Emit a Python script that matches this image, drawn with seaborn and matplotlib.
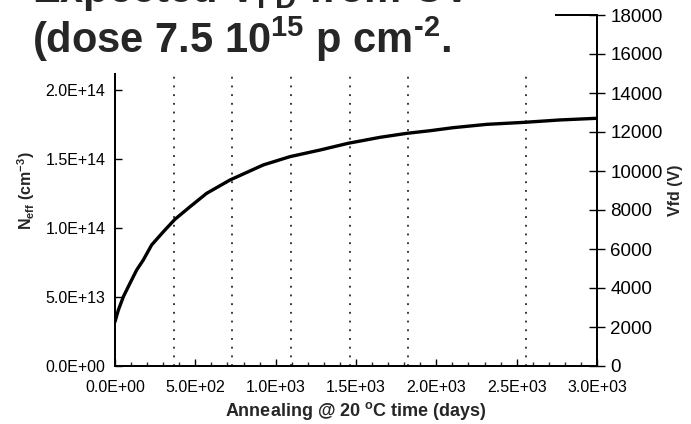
import matplotlib
matplotlib.use("Agg")
import matplotlib.pyplot as plt
import seaborn as sns
import numpy as np
from matplotlib.patches import Rectangle
from matplotlib.ticker import FuncFormatter, MultipleLocator

# curve (days, Neff in cm^-3)
days = [0, 21, 52, 93, 135, 176, 228, 301, 373, 467, 570, 716, 923, 1089,
        1276, 1452, 1649, 1816, 1961, 2105, 2313, 2552, 2770, 3000]
neff = [3.21e13, 4.06e13, 5.02e13, 5.99e13, 6.96e13, 7.68e13, 8.77e13, 9.73e13,
        1.063e14, 1.154e14, 1.251e14, 1.348e14, 1.457e14, 1.517e14, 1.565e14,
        1.614e14, 1.657e14, 1.686e14, 1.705e14, 1.727e14, 1.751e14, 1.766e14,
        1.783e14, 1.795e14]
# yearly markers (years 1-5 and 7)
year_marks = [365, 730, 1095, 1460, 1825, 2555]

x_ticks = [0, 500, 1000, 1500, 2000, 2500, 3000]
neff_ticks = [0, 5e13, 1e14, 1.5e14, 2e14, 2.5e14]
vfd_ticks = [0, 2000, 4000, 6000, 8000, 10000, 12000, 14000, 16000, 18000]

sns.set_theme(style="white")
plt.rcParams['font.family'] = ['Liberation Sans', 'DejaVu Sans']
plt.rcParams['mathtext.fontset'] = 'custom'
plt.rcParams['mathtext.rm'] = 'Liberation Sans:bold'
plt.rcParams['mathtext.it'] = 'Liberation Sans:bold'
plt.rcParams['mathtext.bf'] = 'Liberation Sans:bold'

fig = plt.figure(figsize=(6.91, 4.24), dpi=100)
ax = fig.add_axes([115 / 691, 1 - 366 / 424, (597 - 115) / 691, (366 - 15) / 424])

for d in year_marks:
    ax.axvline(d, color='black', lw=1.1, ls=(0, (1.2, 4.5)), zorder=1)

sns.lineplot(x=days, y=neff, ax=ax, color='black', lw=2.4, zorder=3)

ax.set_xlim(0, 3000)
ax.set_ylim(0, 2.0e14 * 351 / 276)
ax.set_xticks(x_ticks)
ax.xaxis.set_minor_locator(MultipleLocator(100))
ax.set_yticks(neff_ticks)
fmt = FuncFormatter(lambda v, p: f"{v:.1E}")
ax.xaxis.set_major_formatter(fmt)
ax.yaxis.set_major_formatter(fmt)
ax.tick_params(axis='x', which='major', direction='in', length=5, width=1,
               labelsize=11.5, pad=10, colors='black', bottom=True)
ax.tick_params(axis='x', which='minor', direction='in', length=3, width=1, bottom=True)
ax.tick_params(axis='y', which='major', direction='in', length=5, width=1,
               labelsize=11.5, pad=7, colors='black', left=True)
for s in ['left', 'bottom', 'right', 'top']:
    ax.spines[s].set_color('black')
    ax.spines[s].set_linewidth(1.3)

ax.set_xlabel("Annealing @ 20 $^{\\mathrm{o}}$C time (days)", fontsize=13,
              fontweight='bold', labelpad=4)
ax.set_ylabel("N$_{\\mathrm{eff}}$ (cm$^{-3}$)", fontsize=11.5, fontweight='bold', labelpad=6)

ax2 = ax.twinx()
ax2.set_ylim(0, 18000)
ax2.set_yticks(vfd_ticks)
ax2.tick_params(axis='y', direction='inout', length=11, width=1, labelsize=13.5,
                pad=4, colors='black', right=True)
for s in ['left', 'bottom', 'right', 'top']:
    ax2.spines[s].set_color('black')
    ax2.spines[s].set_linewidth(1.3)
ax2.set_ylabel("Vfd (V)", fontsize=11.5, fontweight='bold', labelpad=4)

# slide title box sitting over the top of the chart
fig.patches.append(Rectangle((0, 1 - 73 / 424), 555 / 691, 73 / 424, transform=fig.transFigure,
                             facecolor='white', edgecolor='none', zorder=5))
fig.text(32 / 691, 1 - 2 / 424, "Expected V$_{\\mathrm{FD}}$ from CV", fontsize=30,
         fontweight='bold', va='baseline', ha='left', zorder=6)
fig.text(32 / 691, 1 - 53 / 424, "(dose 7.5 10$^{15}$ p cm$^{\\text{-2}}$.", fontsize=30,
         fontweight='bold', va='baseline', ha='left', zorder=6)

fig.savefig("out.png", dpi=100)
